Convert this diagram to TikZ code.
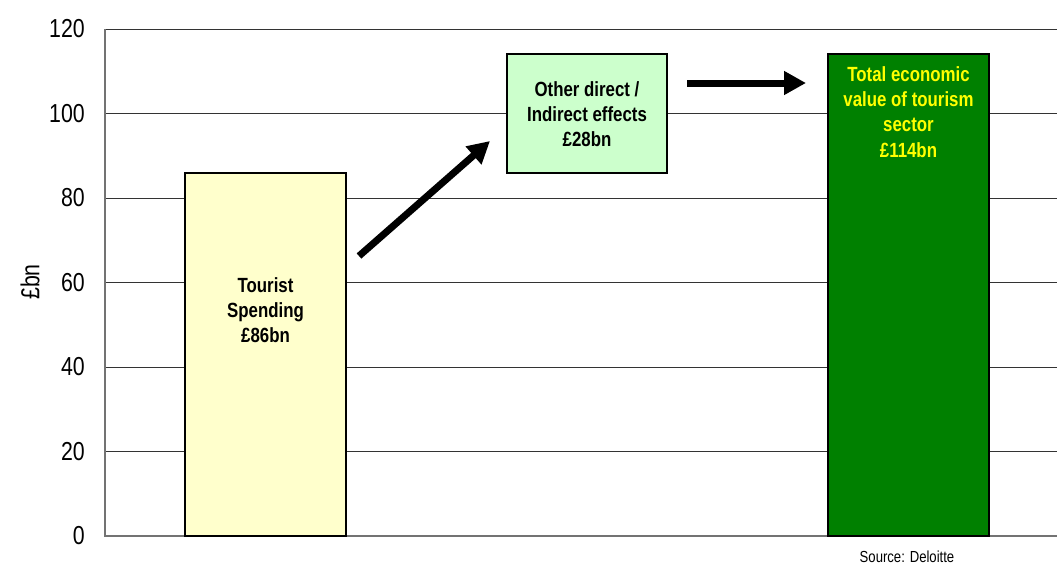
\documentclass[tikz,border=0pt]{standalone}
\usepackage{fontspec}
\setmainfont{Liberation Sans}[FakeStretch=0.82]
\usetikzlibrary{arrows.meta}
\definecolor{paleyellow}{HTML}{FFFFCC}
\definecolor{palegreen}{HTML}{CCFFCC}
\definecolor{darkgreen}{HTML}{008000}
\definecolor{brightyellow}{HTML}{FFFF00}
\begin{document}
\begin{tikzpicture}[x=0.75pt,y=-0.75pt,
  gridline/.style={draw=black!80, line width=0.75pt},
  axisline/.style={draw=black!55, line width=1.2pt},
  barbox/.style={draw=black, line width=1.2pt, inner sep=0pt, outer sep=0pt},
  lbl/.style={font=\fontsize{15.4}{19}\selectfont\bfseries, align=center, inner sep=0pt},
  ticklbl/.style={font=\fontsize{19.5}{21}\selectfont, anchor=east, inner sep=0pt},
  bigarrow/.style={line width=5.25pt, -{Triangle[length=16.5pt,width=17pt]}}]
\useasboundingbox (0,0) rectangle (1057,565);
% grid
\foreach \v in {20,40,...,120}
  \draw[gridline] (105,{536-\v*4.225}) -- (1057,{536-\v*4.225});
\draw[axisline] (105,29) -- (105,536) -- (1057,536);
% tick labels
\foreach \v in {0,20,...,120}
  \node[ticklbl] (tick\v) at (85,{536-\v*4.225}) {\v};
\node[font=\fontsize{19.5}{21}\selectfont, rotate=90, inner sep=0pt] (ylab) at (30,282) {£bn};
% bars
\node[barbox, fill=paleyellow, minimum width=120.75pt, minimum height=272.25pt] (spend) at (265.5,354.5) {};
\node[barbox, fill=palegreen, minimum width=120pt, minimum height=89.25pt] (other) at (587,113.5) {};
\node[barbox, fill=darkgreen, minimum width=120.75pt, minimum height=361.5pt] (total) at (908.5,295) {};
% labels
\node[lbl] (spendlbl) at (265.5,310) {Tourist\\Spending\\£86bn};
\node[lbl] (otherlbl) at (587,114) {Other direct /\\Indirect effects\\£28bn};
\node[lbl, text=brightyellow, anchor=north] (totallbl) at (908.5,66) {Total economic\\value of tourism\\sector\\£114bn};
% arrows
\coordinate (a1s) at (359,256);
\coordinate (a1e) at (490,141);
\coordinate (a2s) at (687,83);
\coordinate (a2e) at (806,83);
\draw[bigarrow] (a1s) -- (a1e);
\draw[bigarrow] (a2s) -- (a2e);
% source
\node[font=\fontsize{12}{14}\selectfont, inner sep=0pt] (src) at (907,557) {Source: Deloitte};
\end{tikzpicture}
\end{document}
